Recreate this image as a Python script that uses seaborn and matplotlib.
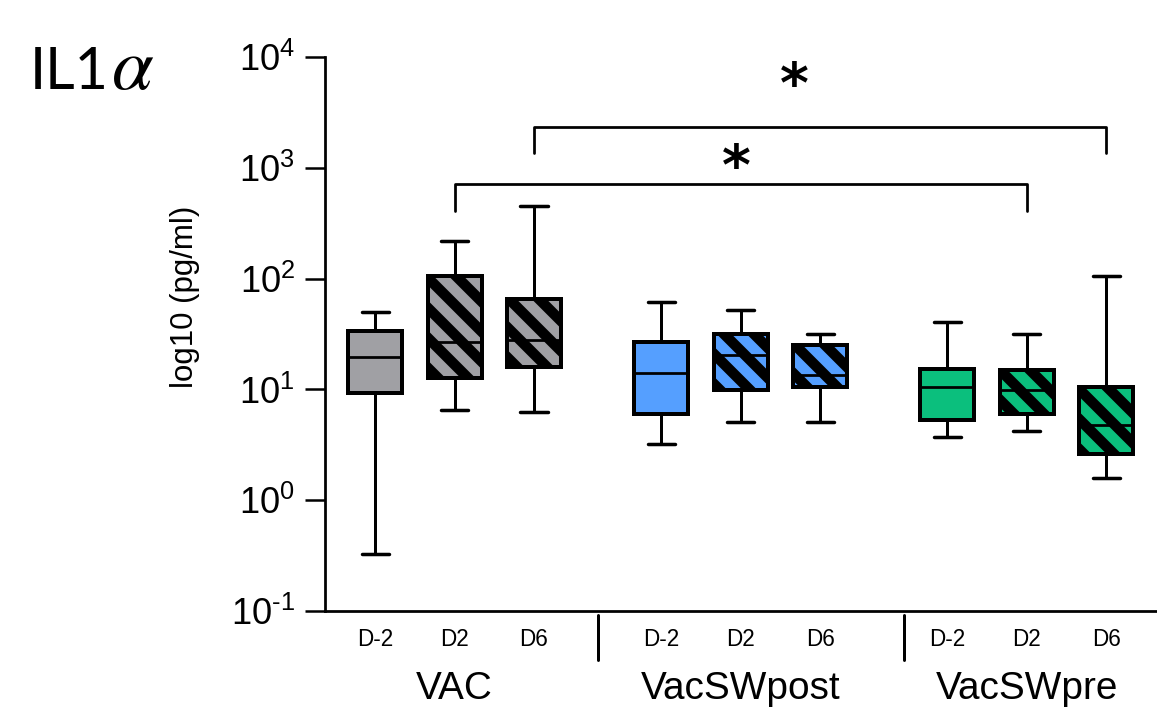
import pandas as pd
import numpy as np
import matplotlib
matplotlib.use("Agg")
import matplotlib.pyplot as plt
import matplotlib.transforms as mtransforms
import seaborn as sns

# Box summaries (pg/ml), order: VAC, VacSWpost, VacSWpre x D-2, D2, D6
groups = ["VAC", "VacSWpost", "VacSWpre"]
days = ["D-2", "D2", "D6"]
whisker_low = [0.33, 6.5, 6.2, 3.2, 5.1, 5.1, 3.75, 4.2, 1.6]
q1 = [9.3, 12.7, 15.9, 6.0, 9.9, 10.5, 5.3, 6.0, 2.6]
median = [19.6, 26.7, 27.8, 14.1, 20.4, 13.5, 10.5, 9.9, 4.8]
q3 = [33.5, 106, 66, 26.7, 31.5, 25, 15.3, 15.0, 10.5]
whisker_high = [50, 219, 452, 61, 51.6, 31.5, 40.3, 31.5, 106]

group_colors = {"VAC": "#A0A0A4", "VacSWpost": "#559FFF", "VacSWpre": "#0BBF7D"}

# significance brackets: (from group, from day, to group, to day, height, leg bottom)
brackets = [
    ("VAC", "D6", "VacSWpre", "D6", 2355, 1350),
    ("VAC", "D2", "VacSWpre", "D2", 711, 407),
]
star_x = [5.28, 4.55]
star_y = [3950, 720]

sns.set_style("ticks")
plt.rcParams["font.family"] = ["Liberation Sans", "DejaVu Sans"]
plt.rcParams["mathtext.fontset"] = "custom"
plt.rcParams["mathtext.rm"] = "Liberation Sans"
plt.rcParams["axes.unicode_minus"] = False
plt.rcParams["hatch.linewidth"] = 4.2
for k in ["text.color", "axes.labelcolor", "xtick.color", "ytick.color", "axes.edgecolor"]:
    plt.rcParams[k] = "black"

GAP = 3.6  # spacing between group starts


def xpos(g, d):
    return groups.index(g) * GAP + days.index(d)


# long table, five values per box so the quartiles land on the read values
rows = []
i = 0
for g in groups:
    for d in days:
        for v in [whisker_low[i], q1[i], median[i], q3[i], whisker_high[i]]:
            rows.append({"group": g, "day": d, "x": xpos(g, d), "value": v})
        i += 1
df = pd.DataFrame(rows)

fig = plt.figure(figsize=(1157 / 180, 722 / 180), dpi=180)
ax = fig.add_axes([325 / 1157, 1 - 611 / 722, 1 - 325 / 1157, (611 - 57) / 722])

sns.boxplot(
    data=df, x="x", y="value", hue="group", palette=group_colors,
    native_scale=True, log_scale=(False, True), dodge=False, legend=False,
    whis=(0, 100), width=0.68, saturation=1, linecolor="black", linewidth=1.6,
    medianprops={"linewidth": 1.1}, whiskerprops={"linewidth": 1.2},
    capprops={"linewidth": 1.4}, ax=ax,
)

# hatch the post-vaccination days
for p in ax.patches:
    ext = p.get_path().get_extents()
    cx = (ext.x0 + ext.x1) / 2
    k = int(round(cx - (cx // GAP) * GAP)) if cx % GAP < 2.5 else 0
    if k in (1, 2):
        p.set_hatch("\\\\")

ax.set_ylim(0.1, 1e4)
ax.set_xlim(-0.63, 9.84)
ax.set_yticks([10.0 ** e for e in range(-1, 5)])
ax.set_yticklabels([r"$\mathregular{10^{\text{%d}}}$" % e for e in range(-1, 5)])
ax.yaxis.set_minor_locator(matplotlib.ticker.NullLocator())
ax.tick_params(axis="y", length=8, width=1, labelsize=14.5, pad=4)

xt = [xpos(g, d) for g in groups for d in days]
ax.set_xticks(xt)
ax.set_xticklabels(days * 3)
ax.tick_params(axis="x", length=0, labelsize=9, pad=7)
ax.set_xlabel("")
ax.set_ylabel("log10 (pg/ml)", fontsize=12.5)
ax.yaxis.set_label_coords(-0.15, 0.567)

for s in ["left", "bottom"]:
    ax.spines[s].set_linewidth(1.1)
sns.despine(ax=ax)

trans = mtransforms.blended_transform_factory(ax.transData, ax.transAxes)
for g in groups:
    ax.text(xpos(g, "D2"), -0.141, g, transform=trans, ha="center", va="center",
            fontsize=15.5)
for sx in [2.8, 6.65]:
    ax.plot([sx, sx], [-0.007, -0.088], transform=trans, color="black", lw=1.2,
            clip_on=False)

# significance brackets
for (g1, d1, g2, d2, top, leg), sx, sy in zip(brackets, star_x, star_y):
    x1, x2 = xpos(g1, d1), xpos(g2, d2)
    ax.plot([x1, x1, x2, x2], [leg, top, top, leg], color="black", lw=1.1,
            clip_on=False)
    ax.text(sx, sy, "*", ha="center", va="baseline", fontsize=22,
            fontweight="bold", family="DejaVu Sans", clip_on=False)

fig.text(30 / 1157, 1 - 89 / 722, "IL1", fontsize=23, family="Lato",
         va="baseline", ha="left")
fig.text(112 / 1157, 1 - 89 / 722, "\u03b1", fontsize=30, family="STIXGeneral",
         style="italic", va="baseline", ha="left")

fig.savefig("out.png", dpi=180)
plt.close(fig)
